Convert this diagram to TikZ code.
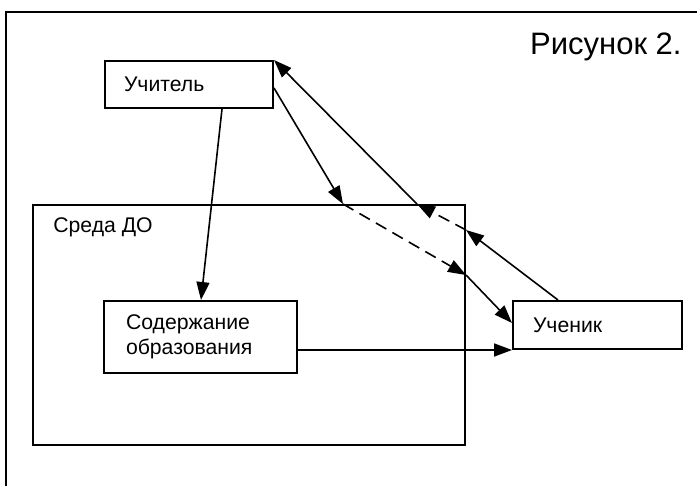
\documentclass[tikz,border=0pt]{standalone}
\usepackage{fontspec}
\setmainfont{Liberation Sans}
\usetikzlibrary{arrows.meta,calc,shadows}
\begin{document}
\begin{tikzpicture}[x=0.5pt,y=-0.5pt,
  box/.style={draw,line width=1pt,fill=white,inner ysep=0pt,align=left,
    drop shadow={shadow xshift=0.6pt,shadow yshift=-0.6pt,fill=gray!55,opacity=1}},
  lbl/.style={font=\fontsize{10.6pt}{12.5pt}\selectfont},
  arr/.style={line width=0.8pt,-{Triangle[length=9pt,width=6.5pt]}},
  dsh/.style={arr,dash pattern=on 6pt off 3.5pt}]
\useasboundingbox (0,0) rectangle (697,486);
\clip (0,0) rectangle (697,486);
\draw[line width=1pt] (6,520) |- (720,12);
\node[font=\fontsize{15.5pt}{18pt}\selectfont,anchor=base east,inner sep=0pt] (title) at (682,55) {Рисунок 2.};
\node[box,anchor=north west,minimum width=216pt,minimum height=120pt] (sreda) at (32,204) {};
\node[lbl,anchor=west,inner sep=0pt] (sredalbl) at (53,227) {Среда ДО};
\node[box,lbl,anchor=north west,inner xsep=9.5pt,text width=65pt,minimum height=23.5pt] (uch) at (104,60) {Учитель};
\node[box,lbl,anchor=north west,inner xsep=11pt,text width=74.5pt,minimum height=36pt] (sod) at (103,300) {Содержание\\образования};
\node[box,lbl,anchor=north west,inner xsep=10pt,text width=64.5pt,minimum height=24pt] (uchen) at (512,300) {Ученик};
\coordinate (p1) at ([xshift=155.5pt]sreda.north west);
\coordinate (p2) at ([yshift=-35.5pt]sreda.north east);
\coordinate (p3) at ([yshift=-13pt]sreda.north east);
\coordinate (p4) at ([xshift=192.5pt]sreda.north west);
\draw[arr] ([xshift=59pt]uch.south west) -- ([xshift=49pt]sod.north west);
\draw[arr] ([yshift=-1.75pt]uch.east) -- (p1);
\draw[dsh] (p1) -- (p2);
\draw[arr] (p2) -- ([yshift=-11.5pt]uchen.north west);
\draw[arr] ([xshift=23pt]uchen.north west) -- (p3);
\draw[dsh] (p3) -- (p4);
\draw[arr] (p4) -- (uch.north east);
\draw[arr] (sod.east |- uchen.south west) -- (uchen.south west);
\end{tikzpicture}
\end{document}
